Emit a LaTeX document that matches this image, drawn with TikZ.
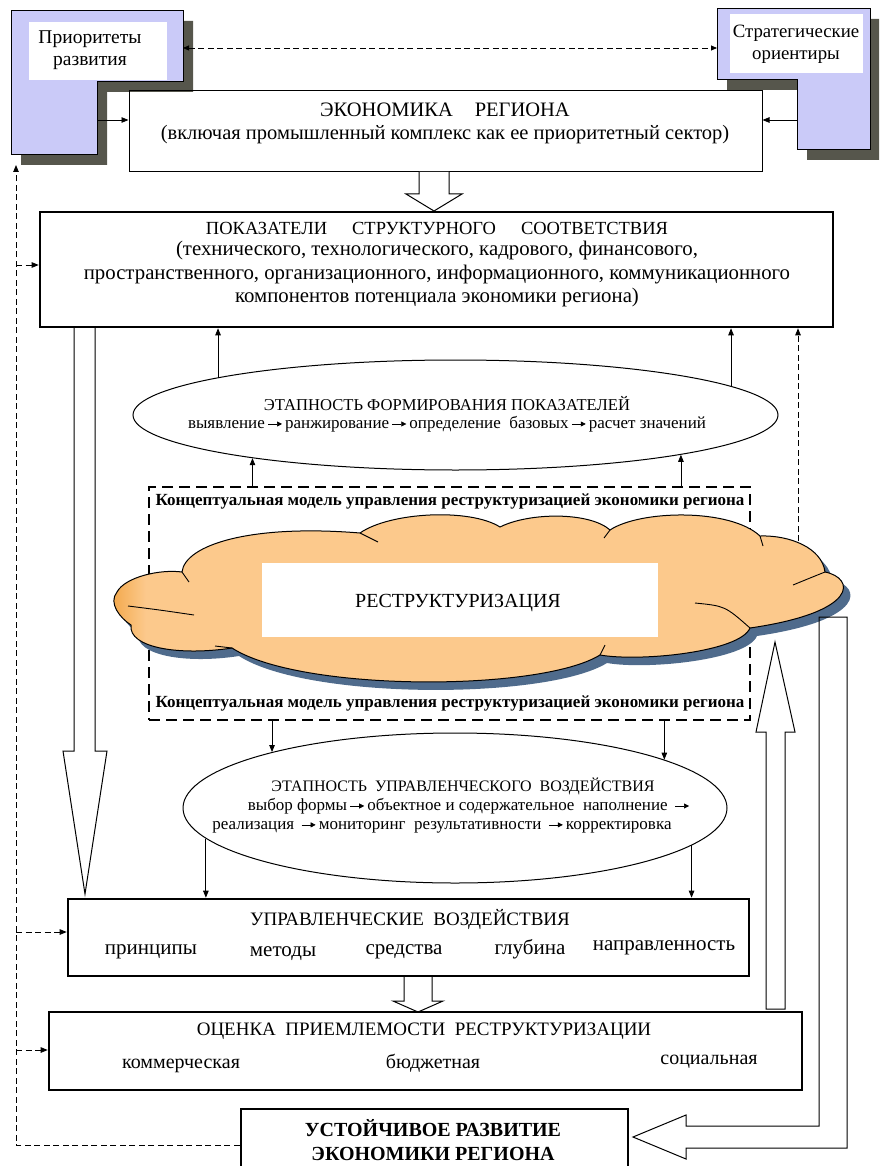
\documentclass[tikz,border=0pt]{standalone}
\usepackage{fontspec}
\setmainfont{Liberation Serif}
\usetikzlibrary{arrows.meta,shapes.geometric,calc}
\definecolor{lav}{HTML}{CACAF8}
\definecolor{shad}{HTML}{56564C}
\definecolor{cloudc}{HTML}{FCC98C}
\definecolor{clouddk}{HTML}{F2A444}
\definecolor{cloudsh}{HTML}{4F6B8C}
\pgfdeclarehorizontalshading{cloudshade}{100bp}{color(0bp)=(clouddk); color(25bp)=(clouddk); color(27.5bp)=(cloudc); color(100bp)=(cloudc)}
\newcommand{\fs}[2]{\fontsize{#1}{#2}\selectfont}
\newcommand{\rarr}{\,\tikz[baseline=-0.55ex,x=1pt,y=1pt]\draw[line width=0.6pt,-{Triangle[length=5pt,width=5pt]}] (0,0)--(14,0);\,}
\begin{document}
\begin{tikzpicture}[x=1pt,y=-1pt,
  tbox/.style={draw, line width=1pt, inner sep=0pt},
  kbox/.style={draw, line width=2.6pt, inner sep=0pt},
  txt/.style={inner sep=0pt, align=center},
  arr/.style={line width=0.8pt, -{Triangle[length=7pt,width=5.5pt]}},
  dline/.style={line width=0.8pt, dash pattern=on 6pt off 3.5pt},
  hollow/.style={draw, line width=1pt, fill=white, line join=miter},
  crease/.style={line width=0.9pt},
  cloudp/.style={insert path={(117,592)
     .. controls (125,577) and (160,569) .. (182,572)
     .. controls (185,545) and (250,524) .. (360,533)
     .. controls (390,512) and (470,508) .. (500,527)
     .. controls (530,512) and (590,512) .. (610,530)
     .. controls (640,510) and (730,508) .. (760,536)
     .. controls (790,535) and (822,548) .. (825,572)
     .. controls (855,578) and (860,612) .. (750,628)
     .. controls (740,652) and (640,662) .. (600,655)
     .. controls (540,692) and (300,692) .. (232,648)
     .. controls (180,656) and (128,648) .. (131,625)
     .. controls (120,618) and (108,603) .. (117,592) -- cycle}}
]
\useasboundingbox (0,0) rectangle (879,1166);
\clip (0,0) rectangle (879,1166);

% left L shape
\fill[shad] (21,21) -- (193,21) -- (193,92) -- (107,92) -- (107,165) -- (21,165) -- cycle;
\draw[fill=lav, line width=1pt] (11,11) -- (183,11) -- (183,82) -- (97,82) -- (97,155) -- (11,155) -- cycle;
\fill[white] (29,22) rectangle (167,80);
\node[txt, font=\fs{19.5}{22}] (prio) at (90,50) {Приоритеты\\развития};

% right L shape
\fill[shad] (727,19) -- (882,19) -- (882,160) -- (807,160) -- (807,90) -- (727,90) -- cycle;
\draw[fill=lav, line width=1pt] (717,9) -- (870,9) -- (870,150) -- (797,150) -- (797,80) -- (717,80) -- cycle;
\fill[white] (730,14) rectangle (863,73);
\node[txt, font=\fs{18.8}{22}] (strat) at (796,44) {Стратегические\\ориентиры};

\coordinate (prioR) at (183,48);
\coordinate (stratL) at (717,48);
\draw[dline, {Triangle[length=6pt,width=5pt]}-{Triangle[length=6pt,width=5pt]}] (prioR) -- (stratL);

% economy
\node[tbox, minimum width=633, minimum height=81] (econ) at (445.5,131.5) {};
\node[txt, font=\fs{20.5}{23}] (econT) at (445,123.5) {ЭКОНОМИКА\hspace{22pt}РЕГИОНА\\(включая промышленный комплекс как ее приоритетный сектор)};
\coordinate (prioE) at (97,120);
\coordinate (stratE) at (797,120);
\draw[arr] (prioE) -- (prioE -| econ.west);
\draw[arr] (stratE) -- (stratE -| econ.east);

\draw[hollow] (419,172) -- (419,194) -- (406,194) -- (434,211) -- (462,194) -- (449,194) -- (449,172);

% indicators
\node[kbox, minimum width=793, minimum height=115] (ind) at (436.5,269.5) {};
\node[txt, font=\fs{18.5}{23.5}] (indT) at (437,228) {ПОКАЗАТЕЛИ\hspace{25pt}СТРУКТУРНОГО\hspace{25pt}СООТВЕТСТВИЯ};
\node[txt, font=\fs{20.8}{23.5}] (indS) at (437,274) {(технического, технологического, кадрового, финансового,\\пространственного, организационного, информационного, коммуникационного\\компонентов потенциала экономики региона)};

\draw[hollow] (74,328) -- (74,751) -- (63,751) -- (85,894) -- (107,751) -- (95,751) -- (95,328);

% ellipse 1
\node[draw, ellipse, line width=1pt, minimum width=645, minimum height=110, inner sep=0pt] (e1) at (455.5,415) {};
\node[txt, font=\fs{16.6}{20}] (e1T) at (447,404) {ЭТАПНОСТЬ ФОРМИРОВАНИЯ ПОКАЗАТЕЛЕЙ};
\node[txt, font=\fs{17}{18}] (e1S) at (447,424) {выявление\rarr ранжирование\rarr определение\ \ базовых\rarr расчет\ значений};
\draw[arr] (e1.171.57) -- (e1.171.57 |- ind.south);
\draw[arr] (e1.6.94) -- (e1.6.94 |- ind.south);

% conceptual model frame
\node[draw, line width=2.4pt, dash pattern=on 11pt off 6pt, minimum width=601, minimum height=233, inner sep=0pt] (cm) at (449.5,603.5) {};
\node[txt, font=\bfseries\fs{17}{18}] (cmT1) at (450,501) {Концептуальная модель управления реструктуризацией экономики региона};
\node[txt, font=\bfseries\fs{17}{18}] (cmT2) at (450,703) {Концептуальная модель управления реструктуризацией экономики региона};
\draw[arr] (cm.north -| e1.192.42) -- (e1.192.42);
\draw[arr] (cm.north -| e1.350.18) -- (e1.350.18);

\coordinate (cl) at (798,560);
\draw[arr, dline] (cl) -- (cl |- ind.south);

% cloud
\fill[cloudsh, shift={(7,8)}, cloudp];
\shadedraw[shading=cloudshade, line width=1pt, cloudp];
\draw[crease] (182,572) -- (189,582);
\draw[crease] (360,533) -- (378,542);
\draw[crease] (610,530) -- (604,538);
\draw[crease] (760,536) -- (763,546);
\draw[crease] (825,572) .. controls (810,578) .. (793,585);
\draw[crease] (750,628) .. controls (725,606) .. (695,603);
\draw[crease] (600,655) -- (605,645);
\draw[crease] (232,648) -- (215,646);
\draw[crease] (128,606) .. controls (160,610) .. (194,615);
\fill[white] (262,563) rectangle (658,637);
\node[txt, font=\fs{20}{22}] (restr) at (458,603) {РЕСТРУКТУРИЗАЦИЯ};

% right loop arrow
\draw[line width=1pt, line join=miter] (819,617) -- (847,617) -- (847,1148) -- (686,1148) -- (686,1159) -- (633,1137) -- (686,1115) -- (686,1126) -- (819,1126) -- cycle;
% up arrow
\draw[hollow] (766,1009) -- (766,732) -- (756,732) -- (775,642) -- (795,732) -- (785,732) -- (785,1009) -- cycle;

% ellipse 2
\node[draw, ellipse, line width=1pt, minimum width=544, minimum height=150, inner sep=0pt] (e2) at (455,808) {};
\node[txt, font=\fs{16}{20}] (e2T) at (463,786) {ЭТАПНОСТЬ\ \ УПРАВЛЕНЧЕСКОГО\ \ ВОЗДЕЙСТВИЯ};
\node[txt, font=\fs{17}{18}] (e2S1) at (470,806) {выбор формы\rarr объектное и содержательное\ \ наполнение\ \rarr};
\node[txt, font=\fs{17}{18}] (e2S2) at (442,827) {реализация\ \rarr мониторинг\ \ результативности\ \rarr корректировка};
\draw[arr] (cm.south -| e2.163.75) -- (e2.163.75);
\draw[arr] (cm.south -| e2.13.96) -- (e2.13.96);

% management
\node[kbox, minimum width=681, minimum height=77] (mg) at (408.5,937.5) {};
\draw[arr] (e2.187.25) -- (e2.187.25 |- mg.north);
\draw[arr] (e2.351.48) -- (e2.351.48 |- mg.north);
\node[txt, font=\fs{19}{20}] (mgT) at (410,919) {УПРАВЛЕНЧЕСКИЕ\ \ ВОЗДЕЙСТВИЯ};
\node[txt, font=\fs{21}{22}] (mg1) at (151,952) {принципы};
\node[txt, font=\fs{21}{22}] (mg2) at (283,954) {методы};
\node[txt, font=\fs{21}{22}] (mg3) at (404,952) {средства};
\node[txt, font=\fs{21}{22}] (mg4) at (530,949) {глубина};
\node[txt, font=\fs{21}{22}] (mg5) at (664,948) {направленность};

\draw[hollow] (404,977) -- (404,1001) -- (393,1001) -- (418,1012) -- (443,1001) -- (432,1001) -- (432,977);

% assessment
\node[kbox, minimum width=753, minimum height=78] (as) at (425.5,1051) {};
\node[txt, font=\fs{19}{20}] (asT) at (424,1031) {ОЦЕНКА\ \ ПРИЕМЛЕМОСТИ\ \ РЕСТРУКТУРИЗАЦИИ};
\node[txt, font=\fs{20}{22}] (as1) at (181,1066) {коммерческая};
\node[txt, font=\fs{20}{22}] (as2) at (433,1063) {бюджетная};
\node[txt, font=\fs{20}{22}] (as3) at (709,1062) {социальная};

% sustainable development
\node[kbox, minimum width=387, minimum height=72] (sus) at (434.5,1145) {};
\node[txt, font=\bfseries\fs{20}{24}] (susT) at (433,1140) {УСТОЙЧИВОЕ РАЗВИТИЕ\\ЭКОНОМИКИ РЕГИОНА};

% left dashed feedback
\coordinate (pb) at (16,165);
\draw[arr, dline] (sus.west) -- (sus.west -| pb) -- (pb);
\coordinate (b1) at (16,265);
\coordinate (b2) at (16,932);
\coordinate (b3) at (16,1050);
\draw[arr, dline] (b1) -- (b1 -| ind.west);
\draw[arr, dline] (b2) -- (b2 -| mg.west);
\draw[arr, dline] (b3) -- (b3 -| as.west);
\end{tikzpicture}
\end{document}
